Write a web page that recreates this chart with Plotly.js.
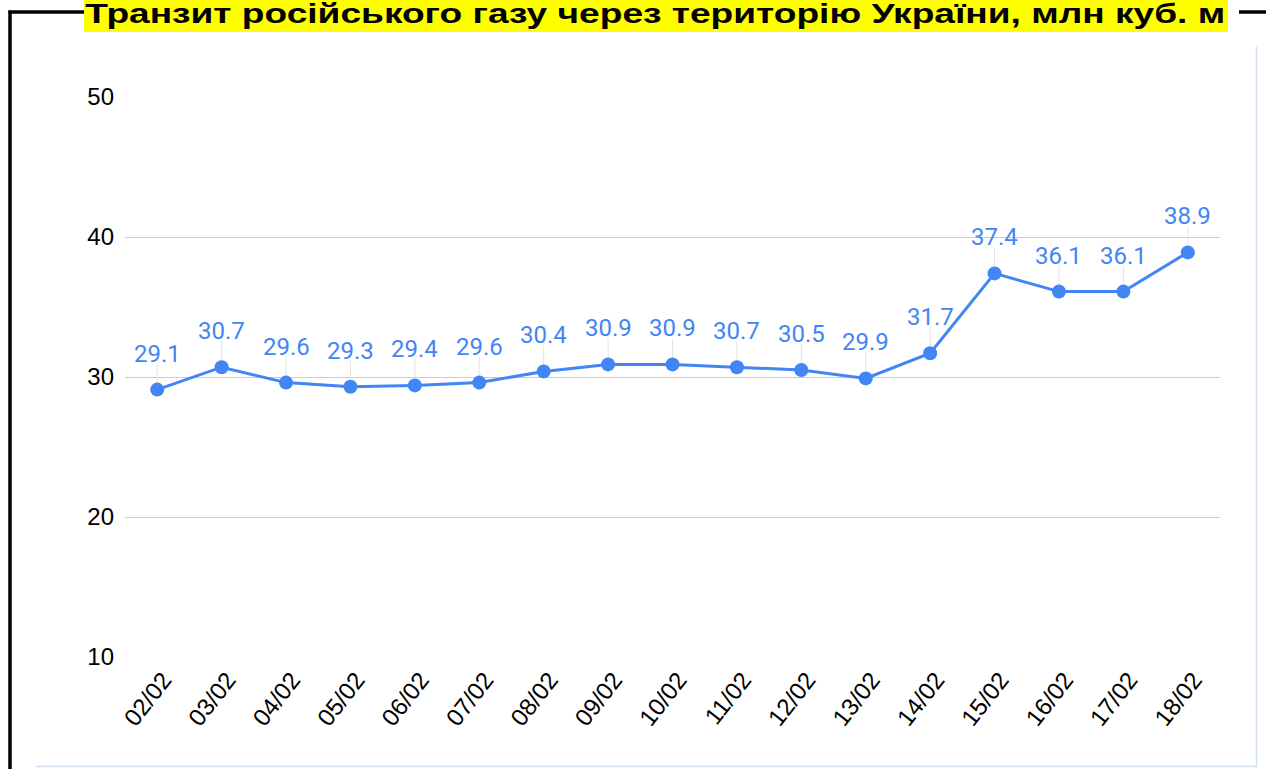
<!DOCTYPE html>
<html>
<head>
<meta charset="utf-8">
<script src="https://cdn.plot.ly/plotly-3.0.1.min.js"></script>
<style>html,body{margin:0;padding:0;background:#fff;}#chart{width:1266px;height:769px;}</style>
</head>
<body>
<div id="chart"></div>
<script>
const dates = ["02/02","03/02","04/02","05/02","06/02","07/02","08/02","09/02","10/02","11/02","12/02","13/02","14/02","15/02","16/02","17/02","18/02"];
const transit = [29.1,30.7,29.6,29.3,29.4,29.6,30.4,30.9,30.9,30.7,30.5,29.9,31.7,37.4,36.1,36.1,38.9];
const yTicks = [10,20,30,40,50];
const titleText = "Транзит російського газу через територію України, млн куб. м";

const W = 1266, H = 769;
const M = {l:125, r:46, t:97, b:112};
const pw = W - M.l - M.r, ph = H - M.t - M.b;
const xp = X => (X - M.l) / pw;
const yp = Y => (H - M.b - Y) / ph;

const blue = "#4285F4";
const leader = transit.map(() => 1.85);

const trace = {
  type: "scatter", mode: "lines+markers",
  x: dates, y: transit,
  line: {color: blue, width: 3},
  marker: {color: blue, size: 14},
  error_y: {type: "data", symmetric: false, array: leader, arrayminus: leader.map(() => 0),
            color: "#e3e3e3", thickness: 1, width: 0},
  hoverinfo: "x+y"
};

const labelAnns = dates.map((d, i) => ({
  x: d, y: transit[i], xref: "x", yref: "y",
  text: transit[i].toFixed(1), showarrow: false,
  yshift: 36, font: {family: "Roboto", size: 24, color: blue}
}));

const titleAnn = {
  xref: "paper", yref: "paper", x: xp((85 + 1225) / 2), y: yp(30), xanchor: "center", yanchor: "bottom",
  text: "<b>" + titleText + "</b>", showarrow: false, borderpad: 0,
  font: {family: "Liberation Sans", size: 28, color: "#000"}
};

const line = (x0, y0, x1, y1, color, w) => ({type: "line", xref: "paper", yref: "paper",
  x0: xp(x0), y0: yp(y0), x1: xp(x1), y1: yp(y1), line: {color: color, width: w}});

const shapes = [
  line(10, 10.5, 10, 775, "#000", 3.5),
  line(8.5, 12, 84, 12, "#000", 3.5),
  line(1239, 12, 1270, 12, "#000", 3.5),
  {type: "rect", xref: "paper", yref: "paper", x0: xp(84), x1: xp(1228), y0: yp(-5), y1: yp(32),
   fillcolor: "#FFFF00", line: {width: 0}},
  line(1256.5, 47, 1256.5, 767, "#cfe0f1", 1.5),
  line(36, 766.5, 1257, 766.5, "#cfe0f1", 1.5)
];

const layout = {
  width: W, height: H, margin: M,
  paper_bgcolor: "#fff", plot_bgcolor: "#fff",
  showlegend: false,
  xaxis: {type: "category", range: [-0.5, dates.length - 0.5], showgrid: false, zeroline: false, showline: false,
          tickangle: -52, ticks: "", ticklabelshift: 6, ticklabelstandoff: 3,
          tickfont: {family: "Liberation Sans", size: 24, color: "#000"}, fixedrange: true},
  yaxis: {range: [10, 50], tickvals: yTicks, ticktext: yTicks.map(String), showgrid: true, gridcolor: "#cccccc", gridwidth: 1,
          zeroline: false, showline: false, ticks: "", ticklabelstandoff: 10,
          tickfont: {family: "Liberation Sans", size: 24, color: "#000"}, fixedrange: true},
  shapes: shapes,
  annotations: labelAnns.concat([titleAnn])
};

Plotly.newPlot("chart", [trace], layout, {displayModeBar: false, staticPlot: true}).then(gd => {
  gd.querySelectorAll("text.annotation-text").forEach(t => {
    if (t.textContent.indexOf("Транзит") === 0) {
      t.setAttribute("textLength", "1140");
      t.setAttribute("lengthAdjust", "spacingAndGlyphs");
    }
  });
});
</script>
</body>
</html>
